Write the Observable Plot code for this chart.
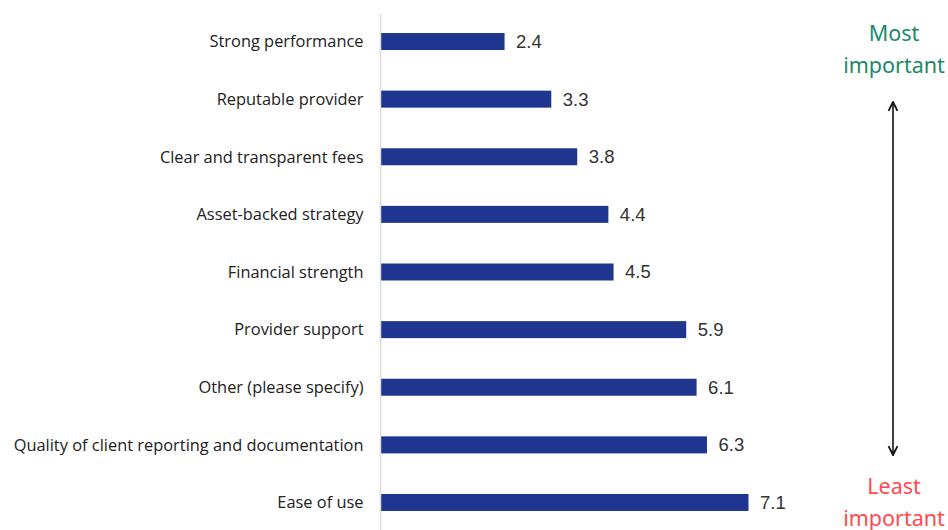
<!DOCTYPE html>
<html>
<head>
<meta charset="utf-8">
<script src="https://cdn.jsdelivr.net/npm/d3@7"></script>
<script src="https://cdn.jsdelivr.net/npm/@observablehq/plot@0.6"></script>
<style>
  html, body { margin: 0; padding: 0; background: #fff; overflow: hidden; }
  #wrap { position: relative; width: 948px; height: 530px; }
  .note { position: absolute; left: 834px; width: 120px; text-align: center;
          font-family: "Noto Sans", sans-serif; font-size: 21.5px; line-height: 32px; }
  #most { top: 17px; color: #1b8a6b; }
  #least { top: 470px; color: #ff4a4f; }
  #arrow { position: absolute; left: 883px; top: 98px; }
</style>
</head>
<body>
<div id="wrap">
  <div id="chart"></div>
  <div class="note" id="most">Most<br>important</div>
  <div class="note" id="least">Least<br>important</div>
  <svg id="arrow" width="20" height="362">
    <defs>
      <marker id="ah" viewBox="0 0 10 10" refX="9" refY="5" markerWidth="7" markerHeight="7" orient="auto-start-reverse">
        <path d="M1,1 L9,5 L1,9" fill="none" stroke="#111" stroke-width="1.6"/>
      </marker>
    </defs>
    <line x1="10" y1="4" x2="10" y2="357" stroke="#111" stroke-width="1.6" marker-start="url(#ah)" marker-end="url(#ah)"/>
  </svg>
</div>
<script>
const categories = [
  "Strong performance",
  "Reputable provider",
  "Clear and transparent fees",
  "Asset-backed strategy",
  "Financial strength",
  "Provider support",
  "Other (please specify)",
  "Quality of client reporting and documentation",
  "Ease of use"
];
const values = [2.4, 3.3, 3.8, 4.4, 4.5, 5.9, 6.1, 6.3, 7.1];

const data = categories.map((c, i) => ({category: c, value: values[i]}));

const chart = Plot.plot({
  width: 948,
  height: 530,
  marginLeft: 380,
  marginRight: 49,
  marginTop: 14,
  marginBottom: 0,
  x: {domain: [0, 10], axis: null},
  y: {domain: categories, paddingInner: 0.705, paddingOuter: 0.33, round: false, label: null},
  style: {fontFamily: "'Open Sans', sans-serif", background: "#fff"},
  marks: [
    Plot.axisY({tickSize: 0, tickPadding: 17, fontSize: 16.4, fill: "#222", label: null}),
    Plot.barX(data, {x: "value", y: "category", fill: "#1f3691"}),
    Plot.text(data, {x: "value", y: "category", text: d => d.value.toFixed(1), textAnchor: "start", dx: 11,
      fontSize: 18.5, fill: "#333", fontFamily: "Liberation Sans, sans-serif"}),
    Plot.ruleX([0], {stroke: "#dcdcdc", strokeWidth: 1.5})
  ]
});
document.getElementById("chart").appendChild(chart);
</script>
</body>
</html>
